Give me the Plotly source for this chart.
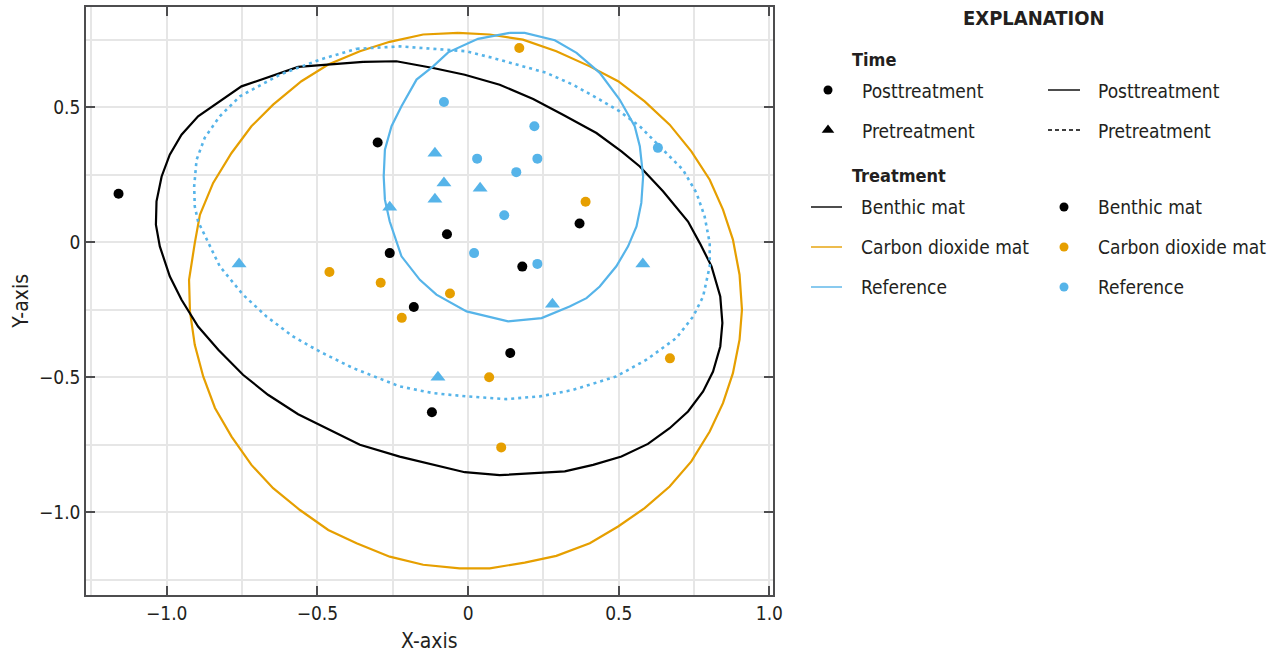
import plotly.graph_objects as go

# ---------------- data ----------------
benthic_post_x = [-1.16, -0.30, -0.07, -0.26, 0.37, 0.18, -0.18, 0.14, -0.12]
benthic_post_y = [0.18, 0.37, 0.03, -0.04, 0.07, -0.09, -0.24, -0.41, -0.63]
co2_post_x = [0.17, 0.39, -0.46, -0.29, -0.06, -0.22, 0.67, 0.07, 0.11]
co2_post_y = [0.72, 0.15, -0.11, -0.15, -0.19, -0.28, -0.43, -0.50, -0.76]
ref_post_x = [-0.08, 0.03, 0.22, 0.23, 0.16, 0.12, 0.02, 0.23, 0.63]
ref_post_y = [0.52, 0.31, 0.43, 0.31, 0.26, 0.10, -0.04, -0.08, 0.35]
ref_pre_x = [-0.11, -0.08, -0.11, -0.26, -0.76, 0.04, 0.58, 0.28, -0.10]
ref_pre_y = [0.33, 0.22, 0.16, 0.13, -0.08, 0.20, -0.08, -0.23, -0.50]

benthic_ell_x = [-0.348, -0.238, -0.116, -0.011, 0.105, 0.216, 0.315, 0.426, 0.509, 0.570,
                 0.647, 0.730, 0.769, 0.808, 0.837, 0.844, 0.837, 0.813, 0.780, 0.730,
                 0.669, 0.597, 0.509, 0.415, 0.321, 0.105, -0.011, -0.116, -0.227, -0.359,
                 -0.459, -0.564, -0.664, -0.747, -0.829, -0.896, -0.951, -0.990, -1.023, -1.036,
                 -1.034, -1.017, -0.990, -0.951, -0.896, -0.752, -0.564, -0.348]
benthic_ell_y = [0.669, 0.671, 0.646, 0.621, 0.584, 0.531, 0.473, 0.405, 0.337, 0.281,
                 0.189, 0.077, -0.003, -0.089, -0.201, -0.299, -0.386, -0.479, -0.553, -0.627,
                 -0.689, -0.747, -0.794, -0.825, -0.849, -0.863, -0.852, -0.825, -0.794, -0.750,
                 -0.695, -0.637, -0.565, -0.491, -0.398, -0.312, -0.213, -0.126, -0.015, 0.065,
                 0.152, 0.244, 0.325, 0.399, 0.467, 0.578, 0.650, 0.669]

co2_ell_x = [-0.033, 0.072, 0.182, 0.293, 0.404, 0.498, 0.586, 0.669, 0.741, 0.802,
             0.846, 0.879, 0.901, 0.909, 0.901, 0.879, 0.846, 0.802, 0.741, 0.669,
             0.586, 0.498, 0.404, 0.293, 0.188, 0.072, -0.028, -0.149, -0.260, -0.370,
             -0.464, -0.558, -0.647, -0.719, -0.785, -0.840, -0.879, -0.907, -0.923, -0.926,
             -0.907, -0.890, -0.846, -0.785, -0.719, -0.647, -0.553, -0.464, -0.359, -0.260,
             -0.149, -0.033]
co2_ell_y = [0.776, 0.770, 0.751, 0.708, 0.652, 0.597, 0.522, 0.436, 0.337, 0.232,
             0.121, 0.010, -0.120, -0.250, -0.361, -0.485, -0.596, -0.701, -0.812, -0.905,
             -0.985, -1.053, -1.115, -1.162, -1.187, -1.208, -1.208, -1.195, -1.165, -1.115,
             -1.066, -0.992, -0.911, -0.825, -0.720, -0.614, -0.497, -0.380, -0.256, -0.139,
             -0.003, 0.102, 0.220, 0.331, 0.430, 0.510, 0.597, 0.659, 0.708, 0.743,
             0.770, 0.776]

ref_post_ell_x = [0.138, 0.188, 0.288, 0.360, 0.437, 0.503, 0.553, 0.570, 0.581, 0.575,
                  0.559, 0.531, 0.492, 0.437, 0.393, 0.337, 0.244, 0.133, -0.005, -0.105,
                  -0.160, -0.221, -0.260, -0.276, -0.280, -0.276, -0.254, -0.221, -0.171, -0.116,
                  -0.066, 0.033, 0.138]
ref_post_ell_y = [0.776, 0.776, 0.749, 0.702, 0.628, 0.529, 0.430, 0.356, 0.244, 0.146,
                  0.059, -0.015, -0.089, -0.164, -0.207, -0.238, -0.281, -0.293, -0.256, -0.194,
                  -0.139, -0.052, 0.077, 0.158, 0.244, 0.343, 0.430, 0.504, 0.603, 0.652,
                  0.704, 0.754, 0.776]

ref_pre_ell_x = [-0.370, -0.227, -0.116, -0.005, 0.083, 0.182, 0.260, 0.348, 0.437, 0.503,
                 0.570, 0.647, 0.713, 0.758, 0.785, 0.802, 0.802, 0.780, 0.747, 0.691,
                 0.592, 0.492, 0.348, 0.238, 0.127, -0.005, -0.116, -0.227, -0.382, -0.492,
                 -0.581, -0.669, -0.747, -0.824, -0.868, -0.896, -0.907, -0.909, -0.901, -0.874,
                 -0.824, -0.757, -0.625, -0.492, -0.370]
ref_pre_ell_y = [0.717, 0.726, 0.717, 0.708, 0.683, 0.652, 0.628, 0.584, 0.529, 0.485,
                 0.430, 0.343, 0.269, 0.183, 0.096, -0.003, -0.089, -0.201, -0.275, -0.355,
                 -0.435, -0.497, -0.547, -0.571, -0.581, -0.571, -0.559, -0.534, -0.466, -0.405,
                 -0.349, -0.275, -0.194, -0.089, 0.010, 0.077, 0.133, 0.207, 0.306, 0.387,
                 0.467, 0.541, 0.621, 0.677, 0.717]

x_tick_vals = [-1.0, -0.5, 0.0, 0.5, 1.0]
x_tick_text = ["\u22121.0", "\u22120.5", "0", "0.5", "1.0"]
y_tick_vals = [-1.0, -0.5, 0.0, 0.5]
y_tick_text = ["\u22121.0", "\u22120.5", "0", "0.5"]

# ---------------- styling ----------------
BLACK = "#000000"
ORANGE = "#E69F00"
BLUE = "#56B4E9"
FONT = "DejaVu Sans Condensed, Liberation Sans Narrow, Arial Narrow, sans-serif"
TXT = "#231F20"

W, H = 1275, 655
ML, MR, MT, MB = 86, 0, 7, 60
plot_right_px = 773
paper_w = W - ML - MR
x_dom_end = (plot_right_px - ML) / paper_w
leg_left_px = 780
leg_dom_start = (leg_left_px - ML) / paper_w

fig = go.Figure()

# ellipses
fig.add_trace(go.Scatter(x=co2_ell_x, y=co2_ell_y, mode="lines",
                         line=dict(color=ORANGE, width=2.2), hoverinfo="skip"))
fig.add_trace(go.Scatter(x=benthic_ell_x, y=benthic_ell_y, mode="lines",
                         line=dict(color=BLACK, width=2.2), hoverinfo="skip"))
fig.add_trace(go.Scatter(x=ref_pre_ell_x, y=ref_pre_ell_y, mode="lines",
                         line=dict(color=BLUE, width=2.6, dash="3px,4px"), hoverinfo="skip"))
fig.add_trace(go.Scatter(x=ref_post_ell_x, y=ref_post_ell_y, mode="lines",
                         line=dict(color=BLUE, width=2.2), hoverinfo="skip"))

# points
fig.add_trace(go.Scatter(x=ref_pre_x, y=ref_pre_y, mode="markers",
                         marker=dict(symbol="triangle-up", size=13, color=BLUE)))
fig.add_trace(go.Scatter(x=ref_post_x, y=ref_post_y, mode="markers",
                         marker=dict(symbol="circle", size=10, color=BLUE)))
fig.add_trace(go.Scatter(x=co2_post_x, y=co2_post_y, mode="markers",
                         marker=dict(symbol="circle", size=10, color=ORANGE)))
fig.add_trace(go.Scatter(x=benthic_post_x, y=benthic_post_y, mode="markers",
                         marker=dict(symbol="circle", size=10, color=BLACK)))

# ---------------- custom explanation (legend) on a second, hidden axis ----------------
# x2 / y2 ranges are set so that 1 unit = 1 screen pixel
def leg_marker(x, y, color, symbol, size):
    fig.add_trace(go.Scatter(x=[x], y=[y], mode="markers", xaxis="x2", yaxis="y2",
                             marker=dict(symbol=symbol, size=size, color=color),
                             hoverinfo="skip"))

def leg_line(x0, x1, y, color, dash="solid", width=1.4):
    fig.add_trace(go.Scatter(x=[x0, x1], y=[y, y], mode="lines", xaxis="x2", yaxis="y2",
                             line=dict(color=color, width=width, dash=dash),
                             hoverinfo="skip"))

annotations = []
def leg_text(x, y, text, size=19, bold=False, anchor="left"):
    annotations.append(dict(x=x, y=y, xref="x2", yref="y2", text=f"<b>{text}</b>" if bold else text,
                            showarrow=False, xanchor=anchor, yanchor="middle",
                            font=dict(family=FONT, size=size, color=TXT)))

leg_text(1034, 18, "EXPLANATION", size=20, bold=True, anchor="center")
leg_text(850, 59, "Time", size=18, bold=True)
leg_marker(828, 90, BLACK, "circle", 9)
leg_text(860, 91, "Posttreatment")
leg_line(1048, 1080, 90, BLACK)
leg_text(1096, 91, "Posttreatment")
leg_marker(828, 130, BLACK, "triangle-up", 11)
leg_text(860, 131, "Pretreatment")
leg_line(1048, 1080, 130, BLACK, dash="4px,3px", width=1.4)
leg_text(1096, 131, "Pretreatment")
leg_text(850, 175, "Treatment", size=18, bold=True)
rows = [(207, BLACK, "Benthic mat"), (247, ORANGE, "Carbon dioxide mat"), (287, BLUE, "Reference")]
for y, c, label in rows:
    leg_line(811, 842, y, c)
    leg_text(859, y, label)
    leg_marker(1064, y, c, "circle", 9)
    leg_text(1096, y, label)

# axis titles
annotations.append(dict(x=0.5, y=-0.078, xref="x domain", yref="paper", text="X-axis",
                        showarrow=False, xanchor="center", yanchor="middle",
                        font=dict(family=FONT, size=21, color=TXT)))
annotations.append(dict(x=-0.095, y=0.5, xref="x domain", yref="y domain", text="Y-axis",
                        textangle=-90, showarrow=False, xanchor="center", yanchor="middle",
                        font=dict(family=FONT, size=21, color=TXT)))

axis_common = dict(
    showline=True, linecolor="#4D4D4F", linewidth=1.5, mirror="ticks",
    ticks="inside", ticklen=9, tickwidth=1.5, tickcolor="#4D4D4F",
    showgrid=True, gridcolor="#E6E6E6", gridwidth=1.5,
    zeroline=False,
    minor=dict(dtick=0.25, tick0=-1.25, showgrid=True, gridcolor="#E6E6E6", gridwidth=1.5, ticks=""),
    tickfont=dict(family=FONT, size=19, color=TXT),
    automargin=False,
)

fig.update_layout(
    width=W, height=H,
    margin=dict(l=ML, r=MR, t=MT, b=MB, pad=0),
    paper_bgcolor="white", plot_bgcolor="white",
    showlegend=False,
    xaxis=dict(domain=[0, x_dom_end], range=[-1.268, 1.012], tickmode="array",
               tickvals=x_tick_vals, ticktext=x_tick_text, **axis_common),
    yaxis=dict(domain=[0, 1], range=[-1.307, 0.872], tickmode="array",
               tickvals=y_tick_vals, ticktext=y_tick_text, **axis_common),
    xaxis2=dict(domain=[leg_dom_start, 1], range=[leg_left_px, W], visible=False,
                anchor="y2", fixedrange=True),
    yaxis2=dict(domain=[0, 1], range=[H - MB, MT], visible=False,
                anchor="x2", fixedrange=True),
    annotations=annotations,
)

fig.write_html("out.html")
